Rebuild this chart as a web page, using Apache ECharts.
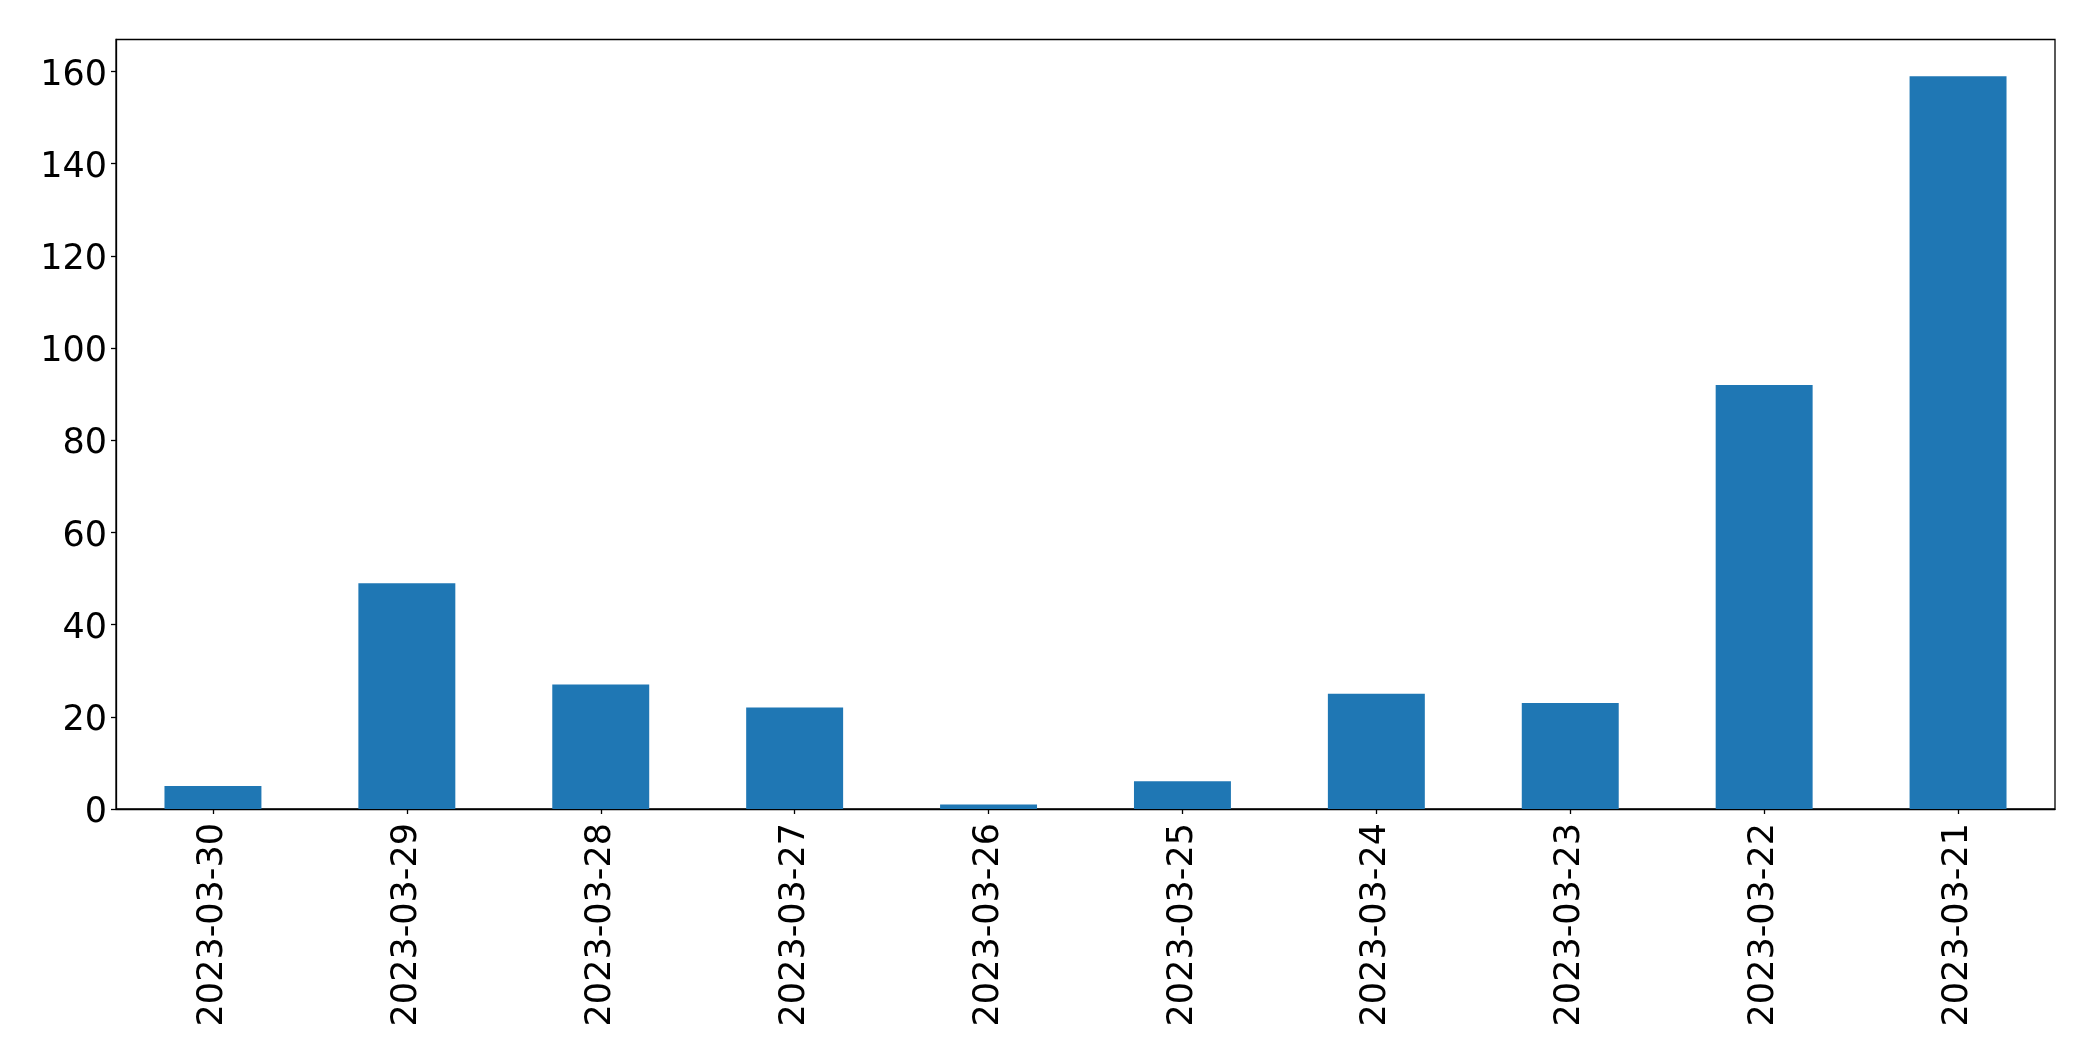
<!DOCTYPE html>
<html>
<head>
<meta charset="utf-8">
<script src="https://cdn.jsdelivr.net/npm/echarts@6/dist/echarts.min.js"></script>
<style>html,body{margin:0;padding:0;background:#fff;}#c{width:2093px;height:1061px;}</style>
</head>
<body>
<div id="c"></div>
<script>
const categories = ["2023-03-30","2023-03-29","2023-03-28","2023-03-27","2023-03-26","2023-03-25","2023-03-24","2023-03-23","2023-03-22","2023-03-21"];
const values = [5, 49, 27, 22, 1, 6, 25, 23, 92, 159];
const yTicks = [0, 20, 40, 60, 80, 100, 120, 140, 160];

const chart = echarts.init(document.getElementById('c'), null, {renderer: 'canvas'});
const font = 'DejaVu Sans';
chart.setOption({
  animation: false,
  backgroundColor: '#fff',
  grid: {left: 116, right: 38, top: 39.5, bottom: 252, show: true, borderColor: '#000', borderWidth: 1.3, backgroundColor: 'transparent'},
  xAxis: {
    type: 'category',
    data: categories,
    axisLine: {show: true, lineStyle: {color: '#000', width: 1.3}},
    axisTick: {show: true, alignWithLabel: true, length: 5, lineStyle: {color: '#000', width: 1.3}},
    axisLabel: {rotate: 90, margin: 14, color: '#000', fontFamily: font, fontSize: 35, interval: 0},
    splitLine: {show: false}
  },
  yAxis: {
    type: 'value',
    min: 0,
    max: 166.95,
    interval: 20,
    axisLine: {show: true, lineStyle: {color: '#000', width: 1.3}},
    axisTick: {show: true, length: 5, lineStyle: {color: '#000', width: 1.3}},
    axisLabel: {color: '#000', fontFamily: font, fontSize: 35, margin: 9, showMaxLabel: false,
      formatter: v => yTicks.includes(v) ? '{a|' + v + '}' : '',
      rich: {a: {fontFamily: font, fontSize: 35, color: '#000', padding: [8, 0, 0, 0]}}},
    splitLine: {show: false}
  },
  series: [{
    type: 'bar',
    data: values,
    barWidth: '50%',
    itemStyle: {color: '#1f77b4'}
  }]
});
</script>
</body>
</html>
